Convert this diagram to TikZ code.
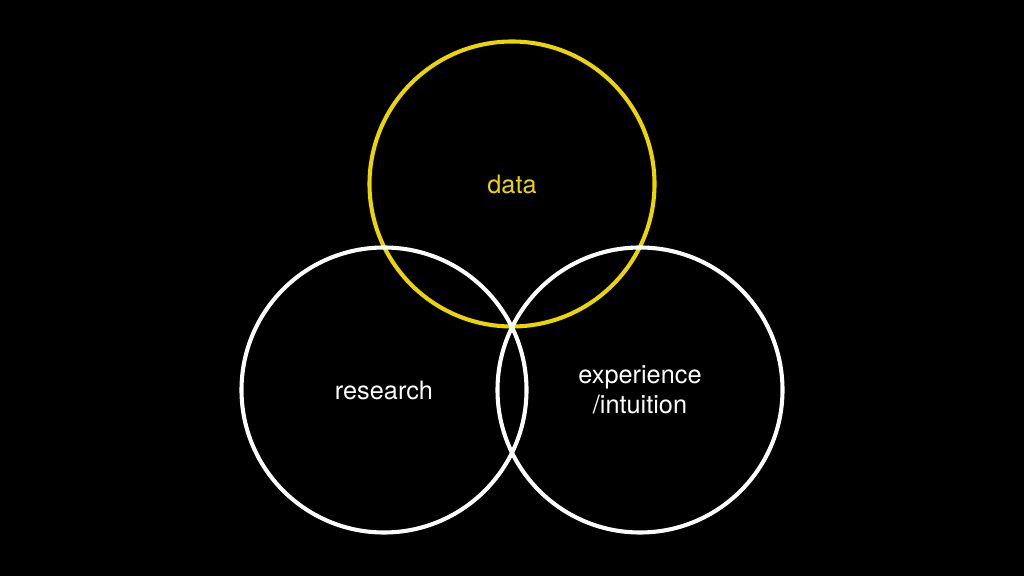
\documentclass[tikz,border=0pt]{standalone}
\usepackage{fontspec}
\setmainfont{TeX Gyre Heros}
\usepackage{tikz}
\usetikzlibrary{positioning}
\definecolor{datayellow}{RGB}{236,214,0}

\tikzset{
    ring/.style={circle, draw=white, line width=2.9pt, minimum size=7.125cm,
        inner sep=0pt, text=white, align=center, font=\fontsize{18}{21.5}\selectfont},
    ringdata/.style={ring, draw=datayellow, text=datayellow}
}

\begin{document}
\begin{tikzpicture}
    % background
    \fill[black] (0,0) rectangle (25.6,14.4);
    \useasboundingbox (0,0) rectangle (25.6,14.4);

    % the three circles
    \node[ringdata] (data) at (12.8,9.8) {data};
    \node[ring] (research) at (9.6,4.65) {research};
    \node[ring] (experience) at (16.0,4.65) {experience\\/intuition};
\end{tikzpicture}
\end{document}
